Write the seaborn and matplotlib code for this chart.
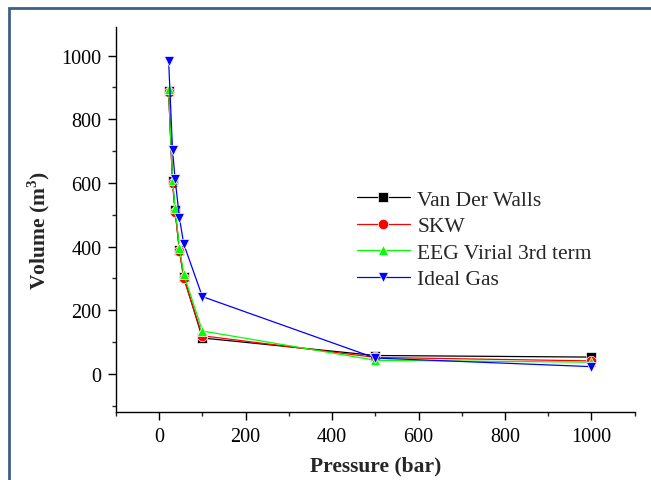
import matplotlib
matplotlib.use("Agg")
import matplotlib.pyplot as plt
from matplotlib.patches import Rectangle
from matplotlib.ticker import MultipleLocator
import seaborn as sns
import pandas as pd

pressure = [22, 31, 37, 47, 57, 100, 500, 1000]
van_der_walls = [890, 605, 515, 390, 305, 113, 58, 53]
skw = [886, 600, 510, 385, 300, 120, 52, 41]
eeg_virial = [895, 610, 522, 397, 313, 135, 43, 37]
ideal_gas = [984, 703, 612, 490, 408, 243, 50, 23]

series_names = ["Van Der Walls", "SKW", "EEG Virial 3rd term", "Ideal Gas"]
series_values = [van_der_walls, skw, eeg_virial, ideal_gas]

rows = []
for name, vals in zip(series_names, series_values):
    for p, v in zip(pressure, vals):
        rows.append({"Pressure": p, "Volume": v, "Series": name})
df = pd.DataFrame(rows)

sns.set_style("ticks")
plt.rcParams["font.family"] = ["Liberation Serif", "DejaVu Serif"]
plt.rcParams["mathtext.fontset"] = "custom"
plt.rcParams["mathtext.bf"] = "Liberation Serif:bold"
plt.rcParams["mathtext.rm"] = "Liberation Serif"

fig = plt.figure(figsize=(6.51, 4.81), dpi=100)
ax = fig.add_axes([0.178, 0.141, 0.797, 0.801])

palette = {"Van Der Walls": "#000000", "SKW": "#ff0000",
           "EEG Virial 3rd term": "#00ff00", "Ideal Gas": "#0000ff"}
markers = {"Van Der Walls": "s", "SKW": "o",
           "EEG Virial 3rd term": "^", "Ideal Gas": "v"}

sns.lineplot(data=df, x="Pressure", y="Volume", hue="Series", style="Series",
             hue_order=series_names, style_order=series_names,
             palette=palette, markers=markers, dashes=False, sort=False,
             linewidth=0.9, markersize=7.5, markeredgewidth=0.5, ax=ax)

ax.set_xlim(-100, 1100)
ax.set_ylim(-120, 1090)
ax.xaxis.set_major_locator(MultipleLocator(200))
ax.xaxis.set_minor_locator(MultipleLocator(100))
ax.yaxis.set_major_locator(MultipleLocator(200))
ax.yaxis.set_minor_locator(MultipleLocator(100))
ax.set_yticks([0, 200, 400, 600, 800, 1000])
ax.tick_params(axis="both", which="major", direction="out", length=5.5, width=1,
               labelsize=14.5, colors="black", pad=5)
ax.tick_params(axis="both", which="minor", direction="out", length=3, width=1)
for s in ["top", "right"]:
    ax.spines[s].set_visible(False)
for s in ["left", "bottom"]:
    ax.spines[s].set_linewidth(1.0)
    ax.spines[s].set_color("black")

ax.set_xlabel("Pressure (bar)", fontsize=15.5, fontweight="bold", labelpad=7)
ax.set_ylabel(r"Volume (m$^\mathbf{3}$)", fontsize=15.5, fontweight="bold")
ax.yaxis.set_label_coords(-0.123, 0.473)

leg = ax.legend(title=None, loc="upper left", bbox_to_anchor=(0.448, 0.60),
                frameon=False, fontsize=15.5, handlelength=2.45,
                handletextpad=0.35, labelspacing=0.30, borderaxespad=0)
for line in leg.get_lines():
    line.set_linewidth(0.9)

fig.patches.append(Rectangle((8.5 / 651, -0.1), 1.2, 1 - 8.5 / 481 + 0.1,
                             transform=fig.transFigure, fill=False,
                             edgecolor="#3f5f88", linewidth=2.0, zorder=10))

fig.savefig("out.png", dpi=100)
